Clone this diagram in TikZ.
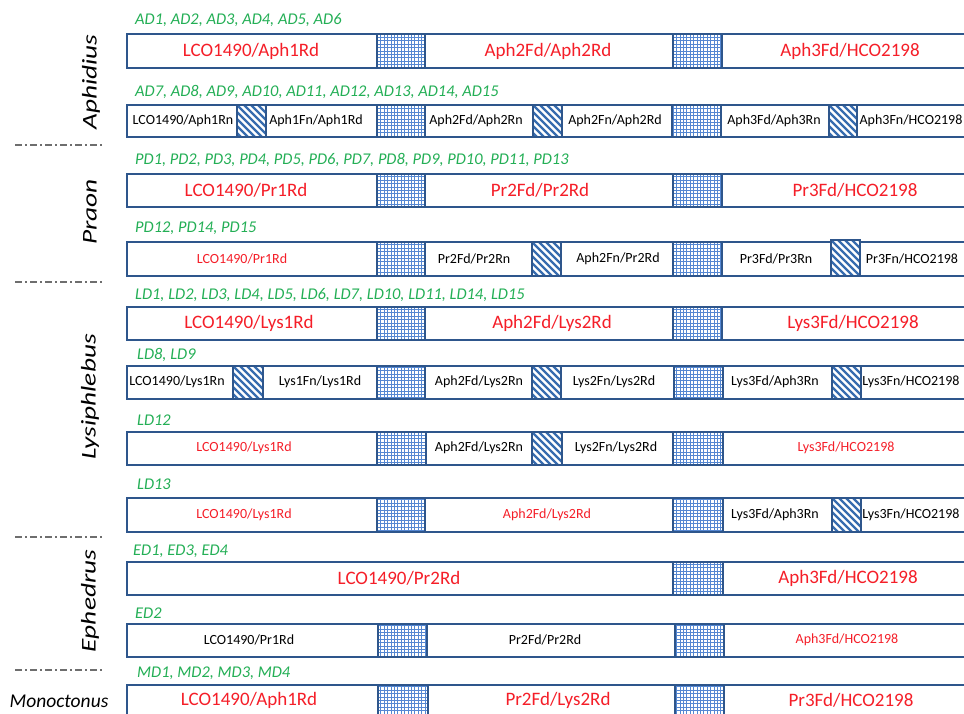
\documentclass[tikz,border=0pt]{standalone}
\usepackage{fontspec}
\setmainfont{Carlito}
\definecolor{bdark}{RGB}{46,86,140}
\definecolor{gblue}{RGB}{85,135,210}
\definecolor{hblue}{RGB}{55,108,175}
\definecolor{tred}{RGB}{245,30,40}
\definecolor{tgreen}{RGB}{35,175,85}
\definecolor{sepgray}{RGB}{110,110,110}
\tikzset{
 barbox/.style={draw=bdark, line width=2.8pt, fill=white},
 gridln/.style={draw=gblue, line width=0.9pt},
 hatchln/.style={draw=hblue, line width=2.4pt},
 big/.style={font=\fontsize{19}{22}\selectfont, text=tred, inner sep=0},
 smallr/.style={font=\fontsize{14}{16}\selectfont, text=tred, inner sep=0},
 smallb/.style={font=\fontsize{14}{16}\selectfont, text=black, inner sep=0},
 lbl/.style={font=\fontsize{16.4}{18}\selectfont\itshape, text=tgreen, anchor=west, inner sep=0},
 genus/.style={font=\fontsize{21}{24}\selectfont\itshape, text=black, inner sep=0},
 sepline/.style={draw=sepgray, line width=1.3pt, dash pattern=on 7pt off 3pt on 2pt off 3pt},
}
\newcommand\mygrid[4]{%
  \fill[white] (#1,#3) rectangle (#2,#4);
  \draw[gridln, step=3.4pt] (#1,#4) grid (#2,#3);
  \draw[barbox, fill=none] (#1,#3) rectangle (#2,#4);}
\newcommand\myhatch[4]{%
  \fill[white] (#1,#3) rectangle (#2,#4);
  \begin{scope}
   \clip (#1,#3) rectangle (#2,#4);
   \foreach \k in {-42,-35,...,35} \draw[hatchln] ({#1+\k},#3) -- ++(45,45);
  \end{scope}
  \draw[barbox, fill=none] (#1,#3) rectangle (#2,#4);}
\begin{document}
\begin{tikzpicture}[x=1pt,y=-1pt]
\useasboundingbox (0,0) rectangle (964,714);
\fill[white] (0,0) rectangle (964,714);
\clip (0,0) rectangle (964,714);

% separators
\draw[sepline] (15,145) -- (103,145);
\draw[sepline] (15,282) -- (103,282);
\draw[sepline] (15,537) -- (103,537);
\draw[sepline] (15,670) -- (103,670);

% genus names
\node[genus, rotate=90] (aphidius) at (91,82) {\scalebox{1.3}[1]{Aphidius}};
\node[genus, rotate=90] (praon) at (90,212) {\scalebox{1.3}[1]{Praon}};
\node[genus, rotate=90] (lysiphlebus) at (90,397) {\scalebox{1.3}[1]{Lysiphlebus}};
\node[genus, rotate=90] (ephedrus) at (90,601) {\scalebox{1.3}[1]{Ephedrus}};
\node[genus, font=\fontsize{19.5}{22}\selectfont\itshape] (monoctonus) at (59,701) {Monoctonus};

% Row 1
\node[lbl] (l1) at (135,20) {AD1, AD2, AD3, AD4, AD5, AD6};
\draw[barbox] (127,34) rectangle (985,68);
\mygrid{377}{425}{34}{68}
\mygrid{673}{722}{34}{68}
\node[big] (r1a) at (251,51) {LCO1490/Aph1Rd};
\node[big] (r1b) at (548,51) {Aph2Fd/Aph2Rd};
\node[big] (r1c) at (850,51) {Aph3Fd/HCO2198};

% Row 2
\node[lbl] (l2) at (135,92) {AD7, AD8, AD9, AD10, AD11, AD12, AD13, AD14, AD15};
\draw[barbox] (127,105) rectangle (985,137);
\myhatch{237}{266}{105}{137}
\mygrid{377}{425}{105}{137}
\myhatch{533}{562}{105}{137}
\mygrid{672}{721}{105}{137}
\myhatch{829}{857}{105}{137}
\node[smallb] (r2a) at (183,121) {LCO1490/Aph1Rn};
\node[smallb] (r2b) at (316,121) {Aph1Fn/Aph1Rd};
\node[smallb] (r2c) at (476,121) {Aph2Fd/Aph2Rn};
\node[smallb] (r2d) at (615,121) {Aph2Fn/Aph2Rd};
\node[smallb] (r2e) at (774,121) {Aph3Fd/Aph3Rn};
\node[smallb] (r2f) at (911,121) {Aph3Fn/HCO2198};

% Row 3
\node[lbl] (l3) at (135,160) {PD1, PD2, PD3, PD4, PD5, PD6, PD7, PD8, PD9, PD10, PD11, PD13};
\draw[barbox] (127,174) rectangle (985,207);
\mygrid{377}{425}{174}{207}
\mygrid{673}{722}{174}{207}
\node[big] (r3a) at (246,190) {LCO1490/Pr1Rd};
\node[big] (r3b) at (540,190) {Pr2Fd/Pr2Rd};
\node[big] (r3c) at (855,190) {Pr3Fd/HCO2198};

% Row 4
\node[lbl] (l4) at (135,228) {PD12, PD14, PD15};
\draw[barbox] (127,242) rectangle (985,276);
\mygrid{377}{425}{242}{276}
\myhatch{532}{561}{242}{276}
\mygrid{673}{722}{242}{276}
\myhatch{831}{860}{240}{276}
\node[smallr] (r4a) at (242,259) {LCO1490/Pr1Rd};
\node[smallb] (r4b) at (474,259) {Pr2Fd/Pr2Rn};
\node[smallb] (r4c) at (618,259) {Aph2Fn/Pr2Rd};
\node[smallb] (r4d) at (776,259) {Pr3Fd/Pr3Rn};
\node[smallb] (r4e) at (912,259) {Pr3Fn/HCO2198};

% Row 5
\node[lbl] (l5) at (135,295) {LD1, LD2, LD3, LD4, LD5, LD6, LD7, LD10, LD11, LD14, LD15};
\draw[barbox] (127,307) rectangle (985,340);
\mygrid{377}{425}{307}{340}
\mygrid{673}{722}{307}{340}
\node[big] (r5a) at (249,323) {LCO1490/Lys1Rd};
\node[big] (r5b) at (552,323) {Aph2Fd/Lys2Rd};
\node[big] (r5c) at (853,323) {Lys3Fd/HCO2198};

% Row 6
\node[lbl] (l6) at (137,355) {LD8, LD9};
\draw[barbox] (127,366) rectangle (985,399);
\myhatch{233}{263}{366}{399}
\mygrid{377}{425}{366}{399}
\myhatch{532}{561}{366}{399}
\mygrid{674}{723}{366}{399}
\myhatch{832}{861}{366}{399}
\node[smallb] (r6a) at (177,382) {LCO1490/Lys1Rn};
\node[smallb] (r6b) at (320,382) {Lys1Fn/Lys1Rd};
\node[smallb] (r6c) at (479,382) {Aph2Fd/Lys2Rn};
\node[smallb] (r6d) at (614,382) {Lys2Fn/Lys2Rd};
\node[smallb] (r6e) at (775,382) {Lys3Fd/Aph3Rn};
\node[smallb] (r6f) at (911,382) {Lys3Fn/HCO2198};

% Row 7
\node[lbl] (l7) at (137,420) {LD12};
\draw[barbox] (127,432) rectangle (985,465);
\mygrid{377}{426}{432}{465}
\myhatch{532}{562}{432}{465}
\mygrid{673}{723}{432}{465}
\node[smallr] (r7a) at (244,448) {LCO1490/Lys1Rd};
\node[smallb] (r7b) at (479,448) {Aph2Fd/Lys2Rn};
\node[smallb] (r7c) at (616,448) {Lys2Fn/Lys2Rd};
\node[smallr] (r7d) at (846,448) {Lys3Fd/HCO2198};

% Row 8
\node[lbl] (l8) at (137,484) {LD13};
\draw[barbox] (127,498) rectangle (985,532);
\mygrid{377}{425}{498}{532}
\mygrid{673}{723}{498}{532}
\myhatch{832}{861}{498}{532}
\node[smallr] (r8a) at (244,515) {LCO1490/Lys1Rd};
\node[smallr] (r8b) at (547,515) {Aph2Fd/Lys2Rd};
\node[smallb] (r8c) at (775,515) {Lys3Fd/Aph3Rn};
\node[smallb] (r8d) at (911,515) {Lys3Fn/HCO2198};

% Row 9
\node[lbl] (l9) at (133,551) {ED1, ED3, ED4};
\draw[barbox] (127,562) rectangle (985,595);
\mygrid{673}{723}{562}{595}
\node[big] (r9a) at (399,578) {LCO1490/Pr2Rd};
\node[big] (r9b) at (848,578) {Aph3Fd/HCO2198};

% Row 10
\node[lbl] (l10) at (135,613) {ED2};
\draw[barbox] (127,624) rectangle (985,657);
\mygrid{378}{427}{624}{657}
\mygrid{675}{724}{624}{657}
\node[smallb] (r10a) at (249,640) {LCO1490/Pr1Rd};
\node[smallb] (r10b) at (545,640) {Pr2Fd/Pr2Rd};
\node[smallr] (r10c) at (847,640) {Aph3Fd/HCO2198};

% Row 11
\node[lbl] (l11) at (137,673) {MD1, MD2, MD3, MD4};
\draw[barbox] (127,685) rectangle (985,725);
\mygrid{378}{428}{685}{725}
\mygrid{675}{724}{685}{725}
\node[big] (r11a) at (249,700) {LCO1490/Aph1Rd};
\node[big] (r11b) at (558,700) {Pr2Fd/Lys2Rd};
\node[big] (r11c) at (851,700) {Pr3Fd/HCO2198};
\end{tikzpicture}
\end{document}
